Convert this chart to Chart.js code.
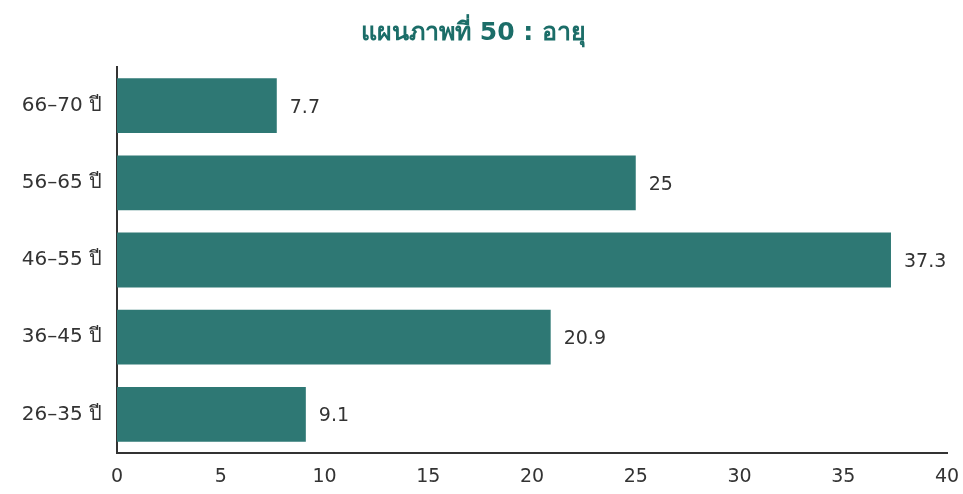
<!DOCTYPE html>
<html>
<head>
<meta charset="utf-8">
<script src="https://cdn.jsdelivr.net/npm/chart.js@4"></script>
<style>
  html, body { margin: 0; padding: 0; background: #fff; }
  #wrap { width: 963px; height: 494px; }
</style>
</head>
<body>
<div id="wrap"><canvas id="ageChart"></canvas></div>
<script>
const ageGroups = ['66–70 ปี', '56–65 ปี', '46–55 ปี', '36–45 ปี', '26–35 ปี'];
const percents = [7.7, 25, 37.3, 20.9, 9.1];
const xTicks = [0, 5, 10, 15, 20, 25, 30, 35, 40];

const barColor = '#2e7874';
const textColor = '#333333';
const fontFamily = '"DejaVu Sans", "Liberation Sans", Arial, sans-serif';

// writes each bar's value just past its end
const valueLabels = {
    id: 'valueLabels',
    afterDatasetsDraw(chart) {
        const ctx = chart.ctx;
        const meta = chart.getDatasetMeta(0);
        ctx.save();
        ctx.font = '19px ' + fontFamily;
        ctx.fillStyle = textColor;
        ctx.textAlign = 'left';
        ctx.textBaseline = 'middle';
        meta.data.forEach((bar, i) => {
            ctx.fillText(String(percents[i]), bar.x + 13, bar.y + 2);
        });
        ctx.restore();
    }
};

window.createAgeChart = () => {
    const ctx = document.getElementById('ageChart').getContext('2d');
    new Chart(ctx, {
        type: 'bar',
        data: {
            labels: ageGroups,
            datasets: [{
                data: percents,
                backgroundColor: barColor,
                borderWidth: 0,
                barPercentage: 0.71,
                categoryPercentage: 1
            }]
        },
        options: {
            indexAxis: 'y',
            responsive: true,
            maintainAspectRatio: false,
            animation: false,
            layout: { padding: { left: 0, right: 16, top: 0, bottom: 0 } },
            plugins: {
                legend: { display: false },
                tooltip: { enabled: false },
                title: {
                    display: true,
                    text: 'แผนภาพที่ 50 : อายุ',
                    color: '#1b6d68',
                    font: { family: fontFamily, size: 25, weight: 'bold' },
                    padding: { top: 18, bottom: 19 }
                }
            },
            scales: {
                x: {
                    min: 0,
                    max: 40,
                    afterBuildTicks: (axis) => { axis.ticks = xTicks.map(v => ({ value: v })); },
                    afterFit: (axis) => {
                        axis.height = 41;
                        // let the end labels hang over the edges instead of shrinking the plot
                        axis.paddingLeft = 0;
                        axis.paddingRight = 0;
                    },
                    grid: { display: false, drawTicks: false },
                    border: { display: true, color: textColor, width: 2 },
                    ticks: {
                        color: textColor,
                        padding: 13,
                        font: { family: fontFamily, size: 19 }
                    }
                },
                y: {
                    afterFit: (axis) => { axis.width = 117; },
                    grid: { display: false, drawTicks: false },
                    border: { display: true, color: textColor, width: 2 },
                    ticks: {
                        color: textColor,
                        padding: 15,
                        font: { family: fontFamily, size: 20 }
                    }
                }
            }
        },
        plugins: [valueLabels]
    });
};

createAgeChart();
</script>
</body>
</html>
